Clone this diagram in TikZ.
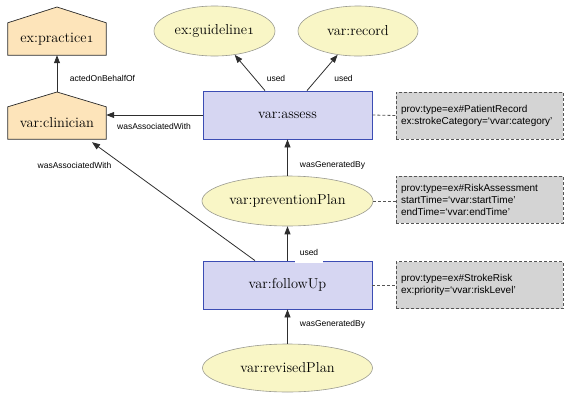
\documentclass[tikz,border=0pt]{standalone}
\usepackage{fontspec}
\newfontfamily\lblfont{Liberation Sans}
\usetikzlibrary{arrows.meta,shapes.geometric,backgrounds}

\definecolor{entityfill}{HTML}{F9F6C6}
\definecolor{entityline}{HTML}{9A9A90}
\definecolor{actfill}{HTML}{D6D6F2}
\definecolor{actline}{HTML}{3C4DB4}
\definecolor{agentfill}{HTML}{FDE4BA}
\definecolor{agentline}{HTML}{2A2A2A}
\definecolor{notefill}{HTML}{D4D4D4}
\definecolor{noteline}{HTML}{555555}
\definecolor{edgecol}{HTML}{2E2E2E}

% old-style figure one
\newcommand{\osone}{{\usefont{OML}{cmm}{m}{it}1}}

\begin{document}
\begin{tikzpicture}[x=1pt,y=-1pt,
  nodetext/.style={font=\fontsize{14.4}{16}\selectfont, inner sep=0pt},
  entity/.style={nodetext, ellipse, draw=entityline, fill=entityfill, line width=0.6pt},
  activity/.style={nodetext, rectangle, draw=actline, fill=actfill, line width=0.8pt,
    minimum width=169pt, minimum height=48pt},
  agentbody/.style={nodetext, rectangle, minimum width=98pt, minimum height=32pt},
  agentshape/.style={draw=agentline, fill=agentfill, line width=0.7pt, line join=miter},
  note/.style={rectangle, draw=noteline, fill=notefill, dash pattern=on 3pt off 2pt,
    line width=0.8pt, font=\lblfont\fontsize{10}{12}\selectfont, align=left,
    text width=157pt, inner xsep=5pt, inner ysep=2pt, minimum height=47pt},
  lbl/.style={font=\lblfont\fontsize{8.5}{10}\selectfont, inner sep=1pt},
  rel/.style={draw=edgecol, line width=0.8pt, -{Triangle[length=8pt,width=6pt]}},
  link/.style={draw=noteline, line width=0.8pt, dash pattern=on 3pt off 2pt},
]
\useasboundingbox (0,0) rectangle (566,392);

% agents (house shapes)
\node[agentbody] (prac) at (57,39) {ex:practice\osone};
\node[agentbody] (clin) at (57,123) {var:clinician};
\coordinate (pracTop) at (57,7);
\coordinate (clinTop) at (57,92);
\begin{scope}[on background layer]
  \path[agentshape] (prac.south west) -- (prac.north west) -- (pracTop)
    -- (prac.north east) -- (prac.south east) -- cycle;
  \path[agentshape] (clin.south west) -- (clin.north west) -- (clinTop)
    -- (clin.north east) -- (clin.south east) -- cycle;
\end{scope}

% entities and activities
\node[entity, minimum width=121pt, minimum height=50pt] (guide) at (214.5,31) {ex:guideline\osone};
\node[entity, minimum width=120pt, minimum height=50pt] (rec) at (358,31) {var:record};
\node[activity] (assess) at (287.5,115) {var:assess};
\node[entity, minimum width=171pt, minimum height=50pt] (prev) at (287.5,201) {var:preventionPlan};
\node[activity] (follow) at (287.5,285) {var:followUp};
\node[entity, minimum width=170pt, minimum height=48pt] (rev) at (287.5,368) {var:revisedPlan};

% attribute notes
\node[note] (n1) at (479.5,115.5) {prov:type=ex\#PatientRecord\\ex:strokeCategory=‘vvar:category’};
\node[note] (n2) at (479.5,199.5) {prov:type=ex\#RiskAssessment\\startTime=‘vvar:startTime’\\endTime=‘vvar:endTime’};
\node[note] (n3) at (479.5,285) {prov:type=ex\#StrokeRisk\\ex:priority=‘vvar:riskLevel’};

% relations
\draw[rel] ([xshift=-22.5pt]assess.north) -- (guide);
\draw[rel] ([xshift=19.5pt]assess.north) -- (rec);
\draw[rel] (assess.west) -- (assess.west -| clin.east);
\draw[rel] ([xshift=-32.5pt]follow.north) -- ([xshift=35pt,yshift=-3pt]clin.south);
\draw[rel] (prev.north) -- (assess.south);
\draw[rel] (follow.north) -- (prev.south);
\draw[rel] (rev.north) -- (follow.south);
\draw[rel] (clinTop) -- (prac.south);

\draw[link] (assess.east) -- (n1.west);
\draw[link] (prev.east) -- (prev.east -| n2.west);
\draw[link] (follow.east) -- (n3.west);

% relation labels
\node[lbl] (lUsedA) at (276,78) {used};
\node[lbl] (lUsedB) at (343.5,78) {used};
\node[lbl] (lActed) at (102.5,78) {actedOnBehalfOf};
\node[lbl] (lAssocA) at (154,126) {wasAssociatedWith};
\node[lbl] (lAssocB) at (74.5,165) {wasAssociatedWith};
\node[lbl] (lGenA) at (332.5,165) {wasGeneratedBy};
\node[lbl, fill=white, inner xsep=5pt, inner ysep=4pt, text depth=3pt, anchor=base] (lUsedC) at (309,255.5) {used};
\node[lbl] (lGenB) at (332.5,324) {wasGeneratedBy};
\end{tikzpicture}
\end{document}
